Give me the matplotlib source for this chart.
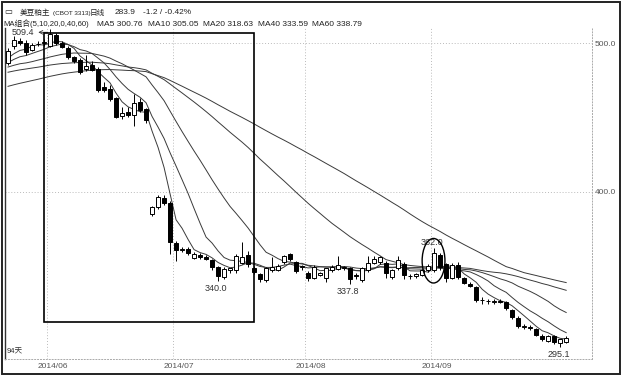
import numpy as np
import pandas as pd
import matplotlib
matplotlib.use("Agg")
import matplotlib.pyplot as plt
from matplotlib.patches import Rectangle, Ellipse

plt.rcParams['font.family'] = ['Liberation Sans', 'Noto Sans CJK SC', 'DejaVu Sans']

# daily bars of the soymeal main contract, 2014-05-21 .. 2014-10-02 (94 days)
open_ = [487.0, 498.0, 501.5, 500.5, 495.5, 499.5, 500.0, 498.5, 505.5, 500.5,
         497.0, 490.5, 489.0, 482.5, 485.5, 483.0, 470.5, 469.0, 463.0, 451.0,
         453.5, 451.6, 460.5, 455.5, 385.0, 389.5, 396.0, 392.4, 365.5, 361.0,
         361.5, 355.3, 357.3, 356.0, 354.0, 349.0, 342.5, 347.0, 347.0, 352.0,
         357.4, 348.6, 344.5, 340.5, 347.0, 347.5, 352.6, 358.0, 352.6, 349.0,
         345.0, 342.0, 344.0, 342.0, 347.0, 348.0, 348.8, 348.6, 344.0, 340.5,
         347.0, 352.0, 352.5, 352.0, 342.8, 348.6, 351.6, 343.0, 343.0, 344.0,
         347.0, 347.0, 357.4, 351.0, 342.0, 350.6, 341.8, 338.0, 335.7, 327.3,
         326.5, 325.5, 326.3, 325.5, 320.5, 315.0, 309.0, 308.8, 307.5, 303.0,
         299.5, 302.6, 298.2, 299.0]
high = [497.0, 505.0, 503.5, 502.0, 500.5, 501.5, 503.0, 509.4, 507.0, 501.5,
        498.0, 491.5, 490.0, 492.0, 488.0, 484.0, 474.0, 472.0, 464.0, 457.0,
        457.0, 466.0, 463.0, 456.5, 390.5, 397.5, 397.5, 393.5, 366.5, 362.5,
        363.0, 359.5, 358.5, 357.5, 355.0, 350.0, 349.0, 348.5, 358.0, 366.0,
        360.0, 350.0, 345.5, 349.0, 356.0, 351.0, 357.5, 359.0, 353.5, 350.5,
        346.5, 350.5, 346.0, 348.5, 350.5, 356.5, 350.0, 349.5, 345.5, 349.5,
        357.0, 357.0, 357.0, 353.0, 348.0, 357.0, 352.5, 344.5, 345.0, 348.0,
        351.0, 362.0, 358.5, 352.0, 352.0, 352.5, 342.5, 339.0, 336.5, 329.0,
        328.0, 327.5, 328.0, 326.5, 321.0, 316.0, 311.0, 310.0, 308.0, 304.0,
        303.5, 303.5, 301.0, 302.5]
low = [485.5, 496.0, 499.0, 492.0, 494.5, 498.0, 498.5, 497.5, 499.0, 496.5,
       489.5, 487.0, 479.0, 481.0, 481.0, 467.5, 467.5, 461.0, 449.5, 449.0,
       450.5, 444.0, 453.5, 446.5, 383.5, 388.5, 391.0, 358.0, 353.5, 359.5,
       357.5, 354.5, 355.0, 354.0, 347.5, 340.0, 341.5, 345.0, 345.5, 351.0,
       349.5, 344.5, 339.5, 339.5, 346.0, 346.5, 351.5, 353.0, 345.0, 347.5,
       340.0, 341.0, 343.0, 339.0, 346.0, 347.0, 347.5, 337.8, 341.0, 339.5,
       346.0, 351.0, 351.5, 342.0, 341.0, 347.5, 341.5, 341.5, 342.0, 343.0,
       346.0, 346.0, 347.5, 339.5, 341.0, 341.5, 337.5, 335.5, 325.5, 324.5,
       324.5, 324.5, 325.0, 320.5, 314.5, 308.5, 307.5, 307.0, 302.5, 299.5,
       298.5, 297.5, 295.1, 298.0]
close = [494.5, 502.0, 500.5, 494.0, 499.0, 499.8, 501.0, 506.5, 500.2, 497.5,
         490.8, 488.0, 480.6, 485.0, 482.0, 468.5, 468.8, 462.4, 450.3, 453.0,
         451.6, 459.7, 455.0, 448.3, 389.8, 396.5, 392.4, 366.0, 360.8, 361.2,
         359.0, 358.0, 356.0, 354.7, 349.5, 343.5, 348.0, 348.3, 357.0, 356.0,
         351.6, 346.2, 341.5, 348.4, 349.6, 350.0, 356.9, 355.0, 346.9, 350.0,
         342.0, 349.6, 345.5, 348.3, 349.6, 350.3, 349.6, 341.5, 343.0, 348.5,
         352.3, 355.0, 356.0, 345.0, 347.0, 354.0, 344.0, 343.5, 344.5, 347.0,
         350.0, 358.6, 349.6, 342.0, 350.6, 342.6, 338.4, 336.4, 327.0, 327.0,
         326.2, 326.5, 326.0, 321.4, 315.5, 309.5, 309.5, 308.5, 303.7, 300.5,
         302.5, 298.8, 300.6, 301.4]

# closes before the window, estimated from where the MA lines start
prior_close = [438, 441, 440, 444, 446, 443, 447, 450, 449, 452,
               455, 453, 456, 458, 457, 460, 459, 462, 464, 466,
               468, 471, 470, 474, 476, 473, 477, 479, 478, 480,
               477, 475, 478, 481, 480, 479, 482, 481, 480, 481,
               478, 480, 483, 482, 479, 481, 484, 482, 480, 481,
               480, 483, 486, 485, 486, 487, 489.5, 490, 489]

ma_periods = [5, 10, 20, 40, 60]
month_labels = ["2014/06", "2014/07", "2014/08", "2014/09"]
yticks = [400.0, 500.0]
low_marks = [35, 57, 92]
high_marks = [71]

dates = pd.bdate_range("2014-05-21", "2014-10-02", freq="C",
                       holidays=["2014-05-26", "2014-07-04", "2014-09-01"])
n = len(close)
x = np.arange(n)
o = np.array(open_)
h = np.array(high)
l = np.array(low)
c = np.array(close)

# moving averages
full = pd.Series(prior_close + close, dtype=float)
mas = {p: full.rolling(p).mean().values[-n:] for p in ma_periods}

W, H = 627, 376
fig = plt.figure(figsize=(W / 100, H / 100), dpi=100)
fig.patch.set_facecolor('white')
ax = fig.add_axes([5 / W, 17 / H, 587 / W, 331 / H])
ax.set_xlim(-0.5, 97.3)
ax.set_ylim(287.3, 510.3)

# grid
for yv in yticks:
    ax.axhline(yv, color='#bbbbbb', lw=0.7, ls=(0, (1, 2)), zorder=0)
month_idx = [int(np.argmax(dates.strftime("%Y/%m") == m)) for m in month_labels]
for mi in month_idx:
    ax.axvline(mi - 0.5, color='#bbbbbb', lw=0.7, ls=(0, (1, 2)), zorder=0)

# MA lines
for p in ma_periods:
    ax.plot(x, mas[p], color='#3a3a3a', lw=0.7, zorder=2)

# candles
up = c >= o
ax.vlines(x, l, h, color='black', lw=0.7, zorder=3)
body_lo = np.minimum(o, c)
body_h = np.maximum(np.abs(c - o), 0.35)
ax.bar(x[up], body_h[up], bottom=body_lo[up], width=0.68,
       facecolor='white', edgecolor='black', lw=0.7, zorder=4)
ax.bar(x[~up], body_h[~up], bottom=body_lo[~up], width=0.68,
       facecolor='black', edgecolor='black', lw=0.7, zorder=4)

# high / low marks
txt = dict(fontsize=6.5, color='#333333')
for i in low_marks:
    ax.text(i - 0.3, l[i] - 2.0, f"{l[i]:.1f}", ha='center', va='top', **txt)
for i in high_marks:
    ax.text(i - 0.3, h[i] + 0.5, f"{h[i]:.1f}", ha='center', va='bottom', **txt)
imax = int(np.argmax(h))
ax.annotate(f"{h[imax]:.1f}", xy=(imax - 0.4, h[imax] - 2.0),
            xytext=(0.6, h[imax] - 2.0), ha='left', va='center',
            arrowprops=dict(arrowstyle='<-', lw=0.6, color='#333333',
                            shrinkA=1, shrinkB=0), **txt)

# hand-drawn annotations on the scan
ax.add_patch(Rectangle((6.0, 312.2), 35.0, 194.8, fill=False, lw=1.2,
                       edgecolor='black', zorder=5))
ax.add_patch(Ellipse((70.9, 353.5), 3.8, 30.0, fill=False, lw=1.0,
                     edgecolor='black', zorder=5))

# axes
ax.yaxis.tick_right()
ax.set_yticks(yticks)
ax.set_yticklabels([f"{v:.1f}" for v in yticks], fontsize=6, color='#555555')
ax.tick_params(axis='y', length=0, pad=2)
ax.set_xticks([mi + 0.5 for mi in month_idx])
ax.set_xticklabels(month_labels, fontsize=6, color='#555555')
ax.tick_params(axis='x', length=0, pad=3)
ax.spines['top'].set_visible(False)
ax.spines['left'].set_color('#333333')
ax.spines['left'].set_linewidth(1.0)
for s in ['right', 'bottom']:
    ax.spines[s].set_color('#aaaaaa')
    ax.spines[s].set_linewidth(0.7)
    ax.spines[s].set_linestyle((0, (1, 2)))

ax.text(0.002, 0.012, f"{n}天", transform=ax.transAxes, fontsize=5.5,
        color='#333333', ha='left', va='bottom')

# header
hdr = dict(fontsize=6, color='#222222', va='center')
fig.text(4 / W, 1 - 13 / H, "▭", **hdr)
fig.text(20 / W, 1 - 13 / H, "美豆粕主", fontsize=5.5, color='#222222', va='center')
fig.text(53 / W, 1 - 13 / H, "(CBOT 3313)", fontsize=4.6, color='#222222', va='center')
fig.text(90 / W, 1 - 13 / H, "日线", fontsize=5.5, color='#222222', va='center')
fig.text(115 / W, 1 - 13 / H, "283.9", **hdr)
fig.text(143 / W, 1 - 13 / H, "-1.2 / -0.42%", **hdr)
fig.text(3 / W, 1 - 24 / H, "MA组合(5,10,20,0,40,60)", fontsize=5.6,
         color='#222222', va='center')
ma_x = [97, 148, 203, 258, 312]
for p, xp in zip(ma_periods, ma_x):
    fig.text(xp / W, 1 - 24 / H, f"MA{p} {mas[p][-1]:.2f}", **hdr)

# outer frame
fig.add_artist(Rectangle((2 / W, 2 / H), 618 / W, 372 / H, transform=fig.transFigure,
                         fill=False, lw=1.4, edgecolor='#222222'))

fig.savefig("out.png", dpi=100)
